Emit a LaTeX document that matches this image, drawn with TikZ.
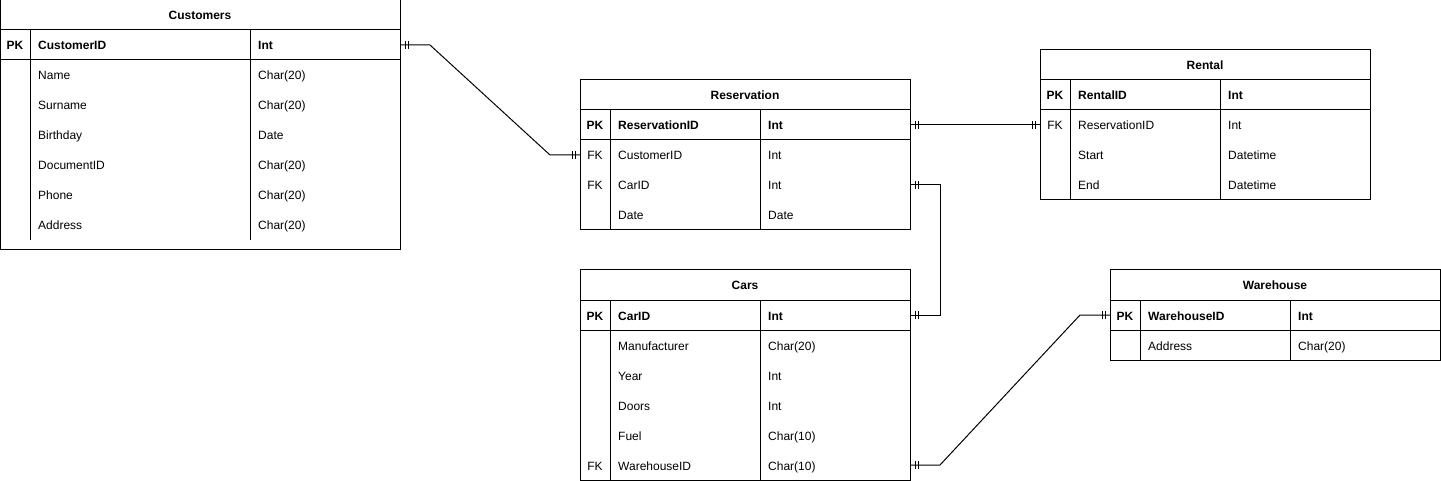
\documentclass[tikz,border=0pt]{standalone}
\usepackage{fontspec}
\setmainfont{Liberation Sans}
\usetikzlibrary{calc, positioning, decorations.markings}

\newcommand{\erfont}{\fontsize{12}{14}\selectfont}

\tikzset{
  tblbox/.style={draw, line width=1pt, rectangle, anchor=north west, inner sep=0pt, outer sep=0pt},
  rowbox/.style={rectangle, anchor=west, inner sep=0pt, outer sep=0pt, minimum height=30pt},
  celltxt/.style={inner sep=0pt, text height=11pt, text depth=1pt, font=\erfont},
  fldtxt/.style={celltxt, anchor=west},
  keyfont/.style={font=\erfont\bfseries},
  onemark/.style={decoration={markings,
      mark=at position 5pt with {\draw[line width=1pt] (0,-4pt) -- (0,4pt);},
      mark=at position 8pt with {\draw[line width=1pt] (0,-4pt) -- (0,4pt);},
      mark=at position -5pt with {\draw[line width=1pt] (0,-4pt) -- (0,4pt);},
      mark=at position -8pt with {\draw[line width=1pt] (0,-4pt) -- (0,4pt);}},
    postaction=decorate},
  relation/.style={line width=1pt, onemark},
}

% table frame: name, x, y, width, height, type column, title, divider end
\newcommand{\ertable}[8]{%
  \node[tblbox, minimum width=#4pt, minimum height=#5pt] (#1) at (#2,#3) {};
  \node[celltxt, keyfont] (#1-title) at ({#2+#4/2},{#3+15}) {#7};
  \draw[line width=1pt] (#2,{#3+30}) -- ++(#4,0) (#2,{#3+60}) -- ++(#4,0);
  \draw[line width=1pt] ({#2+30},{#3+30}) -- ({#2+30},#8)
                        ({#2+#6},{#3+30}) -- ({#2+#6},#8);
}

% table row: [style], name, x, y, width, type column, key, field, type
\newcommand{\erow}[9][]{%
  \node[rowbox, minimum width=#5pt] (#2) at (#3,#4) {};
  \node[celltxt, #1] (#2-k) at ({#3+15},#4) {#7};
  \node[fldtxt, #1] (#2-f) at ({#3+38},#4) {#8};
  \node[fldtxt, #1] (#2-t) at ({#3+#6+8},#4) {#9};
}

\begin{document}
\begin{tikzpicture}[x=1pt, y=-1pt, line join=miter]
  \useasboundingbox (0,0) rectangle (1441,481);

  % Customers
  \ertable{cust}{0}{0}{400}{250}{250}{Customers}{240}
  \erow[keyfont]{cust-0}{0}{45}{400}{250}{PK}{CustomerID}{Int}
  \erow{cust-1}{0}{75}{400}{250}{}{Name}{Char(20)}
  \erow{cust-2}{0}{105}{400}{250}{}{Surname}{Char(20)}
  \erow{cust-3}{0}{135}{400}{250}{}{Birthday}{Date}
  \erow{cust-4}{0}{165}{400}{250}{}{DocumentID}{Char(20)}
  \erow{cust-5}{0}{195}{400}{250}{}{Phone}{Char(20)}
  \erow{cust-6}{0}{225}{400}{250}{}{Address}{Char(20)}

  % Reservation
  \ertable{res}{580}{80}{330}{150}{180}{Reservation}{230}
  \erow[keyfont]{res-0}{580}{125}{330}{180}{PK}{ReservationID}{Int}
  \erow{res-1}{580}{155}{330}{180}{FK}{CustomerID}{Int}
  \erow{res-2}{580}{185}{330}{180}{FK}{CarID}{Int}
  \erow{res-3}{580}{215}{330}{180}{}{Date}{Date}

  % Rental
  \ertable{rent}{1040}{50}{330}{150}{180}{Rental}{200}
  \erow[keyfont]{rent-0}{1040}{95}{330}{180}{PK}{RentalID}{Int}
  \erow{rent-1}{1040}{125}{330}{180}{FK}{ReservationID}{Int}
  \erow{rent-2}{1040}{155}{330}{180}{}{Start}{Datetime}
  \erow{rent-3}{1040}{185}{330}{180}{}{End}{Datetime}

  % Cars
  \ertable{car}{580}{270}{330}{210}{180}{Cars}{480}
  \erow[keyfont]{car-0}{580}{315}{330}{180}{PK}{CarID}{Int}
  \erow{car-1}{580}{345}{330}{180}{}{Manufacturer}{Char(20)}
  \erow{car-2}{580}{375}{330}{180}{}{Year}{Int}
  \erow{car-3}{580}{405}{330}{180}{}{Doors}{Int}
  \erow{car-4}{580}{435}{330}{180}{}{Fuel}{Char(10)}
  \erow{car-5}{580}{465}{330}{180}{FK}{WarehouseID}{Char(10)}

  % Warehouse
  \ertable{wh}{1110}{270}{330}{90}{180}{Warehouse}{360}
  \erow[keyfont]{wh-0}{1110}{315}{330}{180}{PK}{WarehouseID}{Int}
  \erow{wh-1}{1110}{345}{330}{180}{}{Address}{Char(20)}

  % relations
  \draw[relation] (cust-0.east) -- ++(30,0) -- ($(res-1.west)+(-30,0)$) -- (res-1.west);
  \draw[relation] (res-0.east) -- (rent-1.west);
  \draw[relation] (res-2.east) -- ++(30,0) |- (car-0.east);
  \draw[relation] (car-5.east) -- ++(30,0) -- ($(wh-0.west)+(-30,0)$) -- (wh-0.west);
\end{tikzpicture}
\end{document}
